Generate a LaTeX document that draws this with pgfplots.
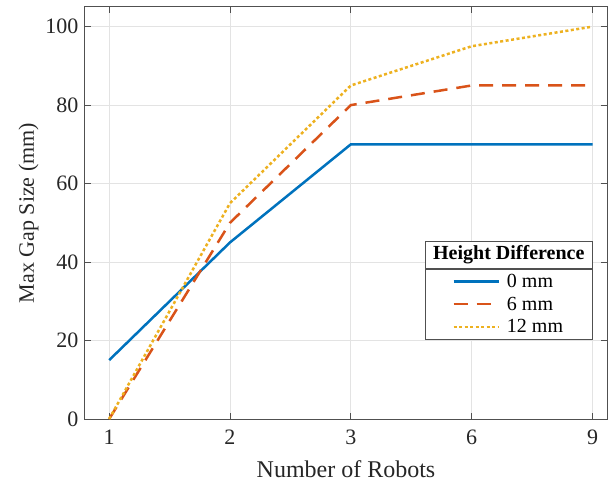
\documentclass[border=0pt]{standalone}
\usepackage{fontspec}
\setmainfont{Liberation Serif}
\usepackage{pgfplots}
\pgfplotsset{compat=1.18}
\definecolor{c1}{RGB}{0,114,189}
\definecolor{c2}{RGB}{217,83,25}
\definecolor{c3}{RGB}{237,177,32}
\definecolor{axgray}{RGB}{80,80,80}
\begin{document}
\begin{tikzpicture}
\useasboundingbox (-85pt,-66pt) rectangle (523pt,419pt);
\begin{axis}[at={(0pt,0pt)}, anchor=south west, scale only axis,
  width=522pt, height=412pt,
  xmin=-0.2, xmax=4.12, ymin=0, ymax=105,
  xtick={0,1,2,3,4}, xticklabels={1,2,3,6,9},
  ytick={0,20,40,60,80,100},
  grid=major, grid style={black!11, line width=0.7pt},
  axis line style={axgray, line width=1pt},
  tick style={axgray, line width=0.8pt},
  major tick length=6pt, tick align=inside,
  ticklabel style={font=\fontsize{22}{22}\selectfont, text=black!85},
  xticklabel style={yshift=-7pt},
  yticklabel style={xshift=-3pt},
  /pgf/number format/assume math mode=true,
  xlabel={Number of Robots}, ylabel={Max Gap Size (mm)},
  xlabel style={font=\fontsize{24}{24}\selectfont, text=black!85, yshift=-9pt},
  ylabel style={font=\fontsize{22}{22}\selectfont, text=black!85},
  legend style={name=leg, at={(axis cs:4,20.2)}, anchor=south east,
    draw=axgray, line width=0.8pt, inner xsep=27pt,
    font=\fontsize{20}{20}\selectfont, row sep=4pt, inner ysep=3pt,
    /tikz/every odd column/.append style={column sep=5pt}},
  legend cell align=left,
  legend image code/.code={\draw[#1] (0pt,0pt) -- (45pt,0pt);},
]
\addplot[c1, line width=2.5pt] coordinates {(0,15)(1,45)(2,70)(3,70)(4,70)};
\addlegendentry{0 mm}
\addplot[c2, line width=2.5pt, dash pattern=on 14pt off 9pt] coordinates {(0,0)(1,50)(2,80)(3,85)(4,85)};
\addlegendentry{6 mm}
\addplot[c3, line width=2.5pt, dash pattern=on 3pt off 2.5pt] coordinates {(0,0)(1,55)(2,85)(3,95)(4,100)};
\addlegendentry{12 mm}
\end{axis}
\draw[axgray, line width=0.8pt, fill=white] (leg.north west) rectangle ([yshift=27pt]leg.north east);
\node[font=\bfseries\fontsize{20}{20}\selectfont, text=black] at ([yshift=13.5pt]leg.north) {Height Difference};
\end{tikzpicture}
\end{document}
